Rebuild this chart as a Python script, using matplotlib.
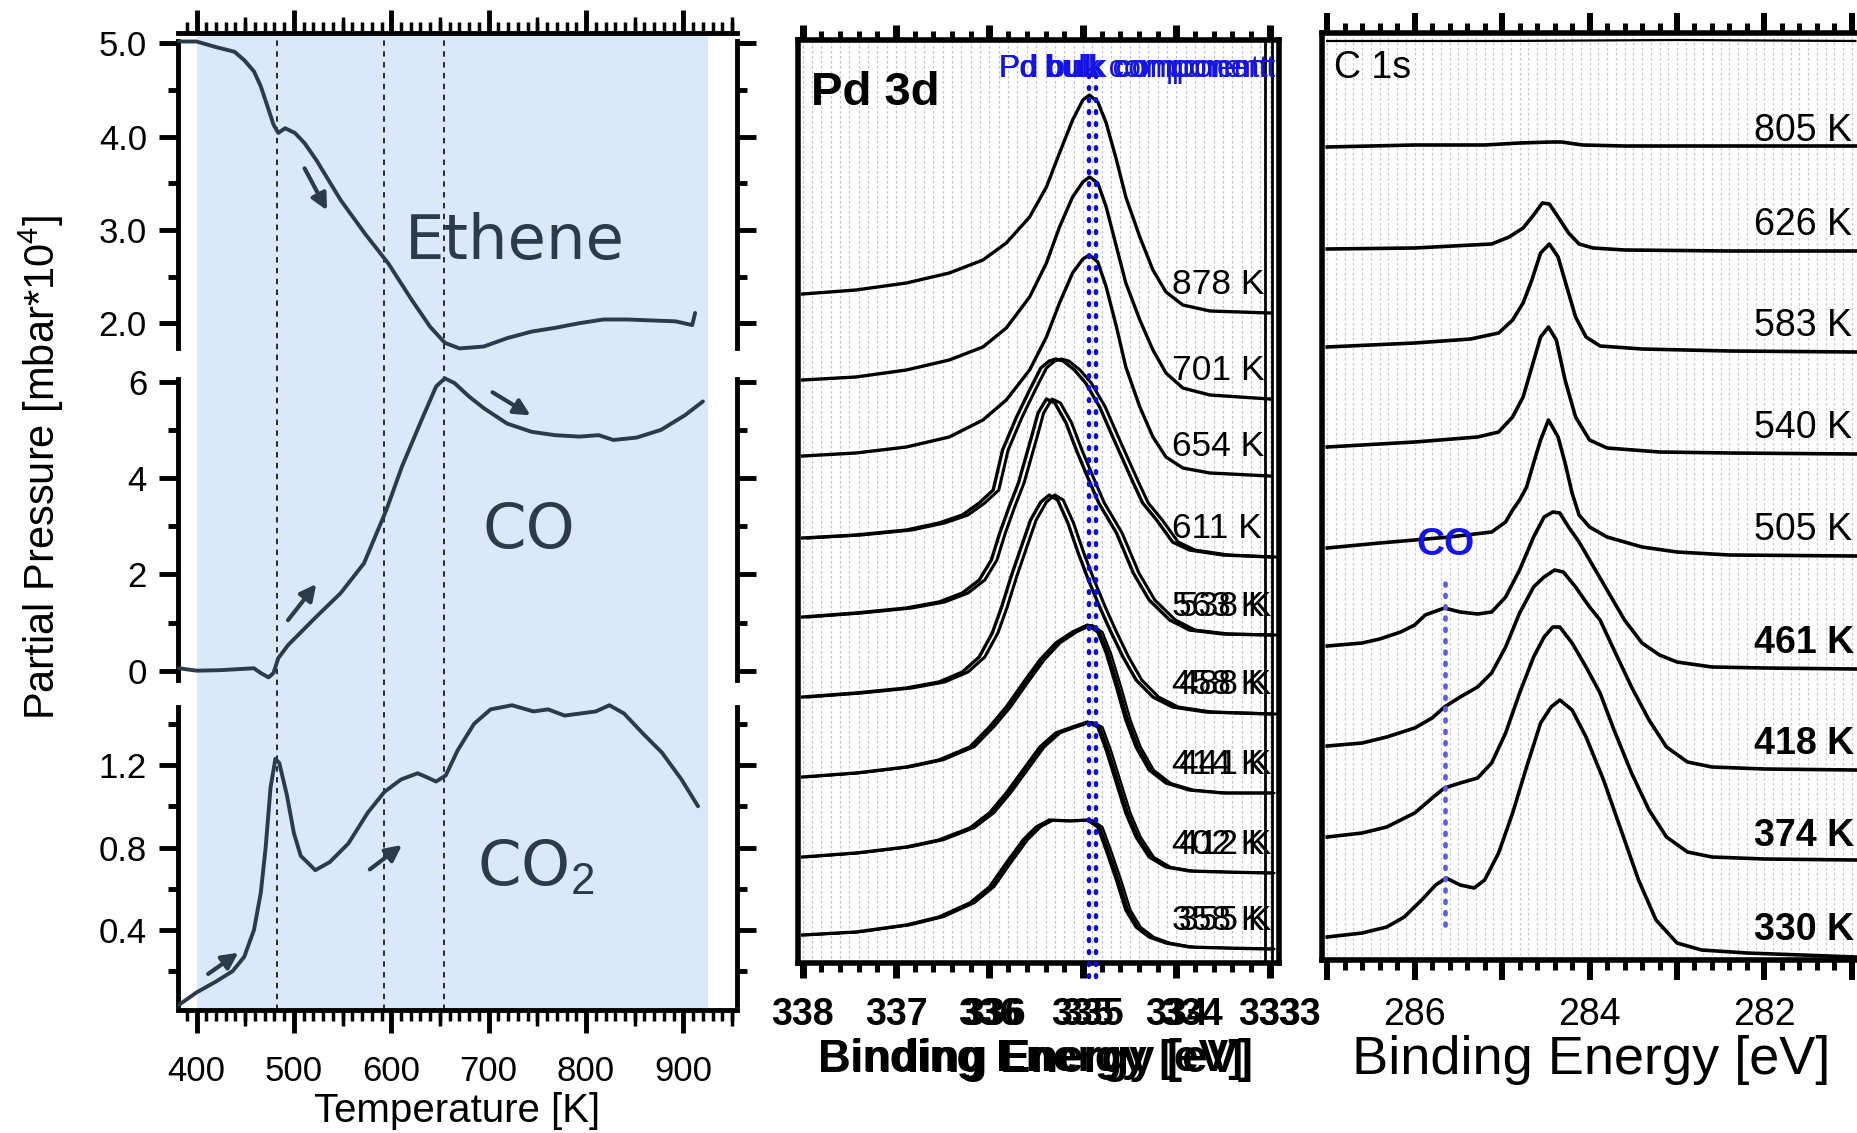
import numpy as np
import matplotlib
matplotlib.use('Agg')
import matplotlib.pyplot as plt
import matplotlib.transforms as mtransforms
from matplotlib.ticker import MultipleLocator, FormatStrFormatter, FuncFormatter

W, H = 1858, 1133
plt.rcParams['font.family'] = ['Liberation Sans', 'DejaVu Sans']
plt.rcParams['mathtext.fontset'] = 'custom'
plt.rcParams['mathtext.rm'] = 'Liberation Sans'
plt.rcParams['mathtext.it'] = 'Liberation Sans:italic'
plt.rcParams['mathtext.bf'] = 'Liberation Sans:bold'
NARROW = ['Liberation Sans Narrow', 'Liberation Sans']
HAND = ['DejaVu Sans']

# ---------------- left panel: partial pressures vs temperature ----------------
eth_T = [382, 400, 420, 439, 449, 459, 466, 474, 479, 484, 491, 501, 511, 523, 548, 573, 597,
         621, 640, 655, 670, 695, 719, 744, 768, 793, 818, 842, 867, 892, 909, 912]
eth_P = [5.02, 5.02, 4.96, 4.91, 4.82, 4.70, 4.54, 4.29, 4.13, 4.04, 4.09, 4.04, 3.93, 3.75, 3.32, 2.96, 2.64,
         2.25, 1.96, 1.79, 1.73, 1.75, 1.84, 1.91, 1.95, 2.00, 2.04, 2.04, 2.03, 2.02, 1.98, 2.11]

co_T = [382, 400, 424, 459, 466, 474, 479, 484, 494, 523, 548, 572, 595, 611, 631, 646, 655, 665,
        680, 695, 719, 744, 768, 793, 813, 828, 852, 877, 902, 920]
co_P = [0.05, 0.0, 0.01, 0.05, -0.05, -0.14, -0.05, 0.26, 0.53, 1.12, 1.61, 2.23, 3.34, 4.24, 5.2, 5.9, 6.07, 5.97,
        5.69, 5.45, 5.13, 4.96, 4.89, 4.86, 4.89, 4.79, 4.84, 5.0, 5.31, 5.59]

co2_T = [382, 400, 420, 437, 449, 459, 466, 471, 476, 481, 485, 493, 500, 507, 522, 537, 556, 576, 593,
         610, 627, 637, 646, 656, 668, 685, 702, 724, 746, 761, 778, 810, 824, 839, 859, 878, 898, 915]
co2_P = [0.037, 0.097, 0.15, 0.2, 0.27, 0.4, 0.58, 0.80, 1.09, 1.23, 1.21, 1.05, 0.87, 0.76, 0.69, 0.73, 0.82, 0.97, 1.07,
         1.13, 1.16, 1.14, 1.12, 1.15, 1.27, 1.40, 1.47, 1.49, 1.46, 1.47, 1.44, 1.46, 1.49, 1.45, 1.35, 1.26, 1.13, 1.0]

marker_T = [483, 593, 654]          # dashed lines (spectra temperatures)
shade_T = (400, 925)                # light blue TPR range

# ---------------- Pd 3d spectra (binding energy, intensity offset) ----------------
pd_E_bulk = [338.0, 337.43, 336.89, 336.43, 336.07, 335.82, 335.57, 335.39, 335.25, 335.11, 335.0,
             334.93, 334.84, 334.75, 334.64, 334.54, 334.39, 334.25, 334.11, 333.93, 333.64, 333.0]
pd_I_878 = [6.68, 6.72, 6.79, 6.89, 7.02, 7.19, 7.45, 7.75, 8.09, 8.42, 8.62,
            8.67, 8.60, 8.39, 8.02, 7.65, 7.25, 6.92, 6.70, 6.57, 6.51, 6.49]
pd_I_701 = [5.82, 5.85, 5.92, 6.02, 6.15, 6.34, 6.65, 6.99, 7.35, 7.65, 7.80,
            7.85, 7.79, 7.55, 7.15, 6.79, 6.42, 6.12, 5.89, 5.74, 5.67, 5.63]
pd_I_654 = [5.06, 5.09, 5.15, 5.25, 5.42, 5.62, 5.92, 6.25, 6.59, 6.89, 7.03,
            7.07, 7.00, 6.75, 6.35, 5.95, 5.55, 5.25, 5.05, 4.94, 4.89, 4.86]

pd_E_611 = [338.0, 337.43, 336.89, 336.54, 336.29, 336.11, 335.96, 335.86, 335.71, 335.57, 335.45, 335.36, 335.29,
            335.21, 335.09, 334.97, 334.82, 334.68, 334.57, 334.46, 334.36, 334.21, 334.04, 333.86, 333.5, 333.0]
pd_I_611 = [4.24, 4.27, 4.32, 4.39, 4.47, 4.59, 4.72, 5.12, 5.45, 5.72, 5.94, 6.01, 6.03,
            6.01, 5.92, 5.79, 5.55, 5.25, 5.02, 4.79, 4.59, 4.42, 4.20, 4.12, 4.07, 4.05]

pd_E_563 = [338.0, 337.43, 336.89, 336.54, 336.29, 336.11, 335.98, 335.89, 335.79, 335.69, 335.62, 335.55, 335.48,
            335.39, 335.3, 335.18, 335.07, 334.95, 334.83, 334.64, 334.46, 334.29, 334.07, 333.86, 333.5, 333.0]
pd_I_563 = [3.45, 3.49, 3.54, 3.60, 3.69, 3.82, 4.02, 4.29, 4.55, 4.79, 5.02, 5.25, 5.49,
            5.63, 5.59, 5.39, 5.12, 4.85, 4.59, 4.29, 3.89, 3.62, 3.42, 3.32, 3.28, 3.27]

pd_E_458 = [338.0, 337.43, 336.89, 336.54, 336.29, 336.11, 335.97, 335.87, 335.77, 335.66, 335.56, 335.45, 335.36,
            335.27, 335.16, 335.05, 334.94, 334.82, 334.71, 334.57, 334.43, 334.25, 334.04, 333.68, 333.0]
pd_I_458 = [2.65, 2.69, 2.74, 2.80, 2.90, 3.05, 3.29, 3.55, 3.85, 4.15, 4.42, 4.60, 4.67,
            4.62, 4.39, 4.09, 3.82, 3.55, 3.32, 3.05, 2.82, 2.65, 2.55, 2.50, 2.48]

pd_E_low = [338.0, 337.43, 336.89, 336.54, 336.21, 336.0, 335.82, 335.64, 335.46, 335.29, 335.11,
            334.95, 334.84, 334.75, 334.64, 334.54, 334.43, 334.29, 334.11, 333.86, 333.5, 333.0]
pd_I_414 = [1.85, 1.89, 1.95, 2.02, 2.15, 2.35, 2.55, 2.79, 3.02, 3.19, 3.30,
            3.37, 3.30, 3.09, 2.75, 2.42, 2.15, 1.92, 1.79, 1.72, 1.69, 1.69]
pd_I_402 = [1.05, 1.09, 1.15, 1.22, 1.34, 1.49, 1.69, 1.92, 2.15, 2.29, 2.35,
            2.40, 2.35, 2.12, 1.79, 1.49, 1.25, 1.05, 0.95, 0.91, 0.90, 0.89]
pd_E_358 = [338.0, 337.43, 336.89, 336.54, 336.21, 336.0, 335.82, 335.64, 335.5, 335.36, 335.14,
            334.95, 334.84, 334.75, 334.64, 334.54, 334.43, 334.29, 334.11, 333.86, 333.5, 333.0]
pd_I_358 = [0.27, 0.30, 0.37, 0.45, 0.59, 0.75, 0.99, 1.22, 1.35, 1.42, 1.41,
            1.42, 1.35, 1.12, 0.82, 0.52, 0.35, 0.25, 0.19, 0.15, 0.14, 0.13]

pd_labels = ['878 K', '701 K', '654 K', '611 K', '563 K', '458 K', '414 K', '402 K', '358 K']
pd_ghost_labels = [None, None, None, None, '538 K', '488 K', '441 K', '412 K', '355 K']
pd_bulk_E = [334.93, 334.86]
pd_ticks = [338, 337, 336, 335, 334, 333]

# ---------------- C 1s spectra ----------------
c_E_top = [287.0, 285.0, 283.0, 280.96]
c_I_top = [9.19, 9.19, 9.20, 9.19]
c_E_805 = [287.0, 286.0, 285.2, 284.8, 284.44, 284.32, 284.08, 283.6, 282.4, 280.96]
c_I_805 = [8.13, 8.15, 8.15, 8.17, 8.18, 8.18, 8.15, 8.14, 8.14, 8.14]
c_E_626 = [287.0, 286.0, 285.12, 284.92, 284.76, 284.64, 284.54, 284.46, 284.36, 284.24, 284.12, 283.96, 283.6, 282.4, 280.96]
c_I_626 = [7.11, 7.12, 7.16, 7.23, 7.32, 7.45, 7.57, 7.56, 7.43, 7.27, 7.16, 7.12, 7.10, 7.09, 7.09]
c_E_583 = [287.0, 286.0, 285.36, 285.04, 284.88, 284.76, 284.66, 284.56, 284.46, 284.36, 284.26, 284.16, 284.04,
           283.88, 283.4, 282.4, 280.96]
c_I_583 = [6.13, 6.17, 6.21, 6.27, 6.40, 6.57, 6.80, 7.07, 7.16, 7.03, 6.73, 6.43, 6.23, 6.14, 6.11, 6.09, 6.08]
c_E_540 = [287.0, 286.0, 285.28, 285.04, 284.88, 284.76, 284.66, 284.56, 284.47, 284.38, 284.28, 284.16, 284.0,
           283.8, 283.2, 282.4, 280.96]
c_I_540 = [5.13, 5.18, 5.23, 5.28, 5.43, 5.63, 5.93, 6.23, 6.33, 6.20, 5.80, 5.43, 5.20, 5.12, 5.08, 5.07, 5.06]
c_E_505 = [287.0, 286.4, 286.0, 285.6, 285.12, 284.96, 284.88, 284.8, 284.72, 284.64, 284.56, 284.47, 284.36,
           284.28, 284.2, 284.12, 284.0, 283.8, 283.4, 283.0, 282.4, 280.96]
c_I_505 = [4.12, 4.17, 4.20, 4.23, 4.28, 4.38, 4.50, 4.60, 4.73, 4.97, 5.20, 5.40, 5.23,
           4.97, 4.67, 4.45, 4.33, 4.23, 4.13, 4.08, 4.05, 4.04]
c_E_461 = [287.0, 286.6, 286.4, 286.16, 286.0, 285.88, 285.66, 285.48, 285.28, 285.12, 284.96, 284.8, 284.64, 284.52,
           284.42, 284.34, 284.24, 284.12, 284.0, 283.8, 283.6, 283.4, 283.2, 283.0, 282.6, 282.0, 280.96]
c_I_461 = [3.14, 3.17, 3.21, 3.28, 3.35, 3.45, 3.52, 3.48, 3.46, 3.48, 3.63, 3.90, 4.23, 4.43,
           4.48, 4.47, 4.33, 4.18, 4.00, 3.70, 3.40, 3.17, 3.05, 2.98, 2.93, 2.92, 2.91]
c_E_418 = [287.0, 286.6, 286.32, 286.0, 285.8, 285.66, 285.48, 285.28, 285.12, 284.96, 284.8, 284.64, 284.52,
           284.4, 284.3, 284.16, 284.0, 283.88, 283.72, 283.52, 283.32, 283.12, 282.88, 282.6, 282.0, 280.96]
c_I_418 = [2.14, 2.17, 2.23, 2.32, 2.42, 2.53, 2.63, 2.73, 2.87, 3.13, 3.47, 3.73, 3.83,
           3.90, 3.88, 3.73, 3.53, 3.40, 3.10, 2.73, 2.40, 2.13, 1.98, 1.93, 1.91, 1.90]
c_E_374 = [287.0, 286.6, 286.32, 286.0, 285.8, 285.66, 285.48, 285.28, 285.12, 284.96, 284.8, 284.64, 284.52,
           284.42, 284.34, 284.2, 284.04, 283.88, 283.72, 283.52, 283.32, 283.12, 282.88, 282.6, 282.0, 280.96]
c_I_374 = [1.23, 1.27, 1.33, 1.47, 1.62, 1.72, 1.77, 1.82, 1.97, 2.27, 2.67, 3.03, 3.23,
           3.33, 3.33, 3.17, 2.93, 2.67, 2.30, 1.87, 1.50, 1.23, 1.08, 1.03, 1.01, 1.00]
c_E_330 = [287.0, 286.6, 286.32, 286.12, 285.92, 285.76, 285.64, 285.48, 285.32, 285.2, 285.04, 284.88, 284.72,
           284.56, 284.44, 284.34, 284.2, 284.04, 283.84, 283.64, 283.44, 283.24, 283.0, 282.72, 282.2, 280.96]
c_I_330 = [0.23, 0.27, 0.33, 0.43, 0.60, 0.75, 0.82, 0.75, 0.72, 0.80, 1.07, 1.47, 1.93,
           2.37, 2.53, 2.60, 2.50, 2.23, 1.80, 1.30, 0.80, 0.40, 0.17, 0.10, 0.07, 0.03]
c_labels = ['805 K', '626 K', '583 K', '540 K', '505 K', '461 K', '418 K', '374 K', '330 K']
c_co_E = 285.65


def box(x0, y0, x1, y1):
    # pixel box (origin top-left) -> figure fraction rect
    return [x0 / W, 1 - y1 / H, (x1 - x0) / W, (y1 - y0) / H]


def pt(px):
    return px * 0.72


fig = plt.figure(figsize=(W / 100, H / 100), dpi=100)
INK = '#2c3b4c'
T_LIM = (381, 955)

# background axes: shading, marker lines, temperature ticks (top + bottom)
ax_bg = fig.add_axes(box(178, 33, 737, 1010))
ax_bg.set_xlim(*T_LIM)
ax_bg.set_ylim(0, 1)
ax_bg.axvspan(*shade_T, color='#dae8fa', lw=0, zorder=0)
for t in marker_T:
    ax_bg.axvline(t, color='#1a1a1a', lw=1.3, ls=(0, (3, 3)), zorder=1)
ax_bg.spines[['left', 'right']].set_visible(False)
ax_bg.spines[['top', 'bottom']].set_linewidth(3.5)
ax_bg.set_yticks([])
ax_bg.xaxis.set_major_locator(MultipleLocator(100))
ax_bg.xaxis.set_minor_locator(MultipleLocator(10))
ax_bg.tick_params(axis='x', which='both', top=True, bottom=True, direction='out')
ax_bg.tick_params(axis='x', which='major', length=pt(23), width=3.5, labelsize=25, pad=pt(22),
                  labelfontfamily=NARROW)
ax_bg.tick_params(axis='x', which='minor', length=pt(11), width=2.5)
half = np.arange(450, 951, 100)
for side in ('top', 'bottom'):
    sec = ax_bg.secondary_xaxis(side)
    sec.set_xticks(half, labels=[''] * len(half))
    sec.tick_params(axis='x', length=pt(16), width=2.5, direction='out')
    sec.spines[side].set_visible(False)
fig.text(457 / W, 1 - 1111 / H, 'Temperature [K]', ha='center', va='center', fontsize=29, family=NARROW)


def pressure_axes(y0, y1, ylim, major, minor, fmt):
    ax = fig.add_axes(box(178, y0, 737, y1))
    ax.patch.set_visible(False)
    ax.set_xlim(*T_LIM)
    ax.set_ylim(*ylim)
    ax.spines[['top', 'bottom']].set_visible(False)
    ax.spines[['left', 'right']].set_linewidth(3.5)
    ax.set_xticks([])
    ax.set_yticks(major)
    ax.set_yticks(minor, minor=True)
    ax.yaxis.set_major_formatter(FormatStrFormatter(fmt))
    ax.tick_params(axis='y', which='both', left=True, right=True, direction='out', width=3.5)
    ax.tick_params(axis='y', which='major', length=pt(19), labelsize=25, pad=pt(12), labelfontfamily=NARROW)
    ax.tick_params(axis='y', which='minor', length=pt(10))
    return ax


ax_eth = pressure_axes(41.5, 348.4, (1.73, 5.02), [2, 3, 4, 5], [2.5, 3.5, 4.5], '%.1f')
ax_co = pressure_axes(379.3, 680.3, (-0.2, 6.05), [0, 2, 4, 6], [1, 3, 5], '%d')
ax_co2 = pressure_axes(706.7, 1010, (0.012, 1.483), [0.4, 0.8, 1.2], [0.2, 0.6, 1.0, 1.4], '%.1f')
ax_co2.spines['left'].set_bounds(0.036, 1.483)
ax_co2.spines['right'].set_bounds(0.036, 1.483)

for ax, T, P in [(ax_eth, eth_T, eth_P), (ax_co, co_T, co_P), (ax_co2, co2_T, co2_P)]:
    ax.plot(T, P, color=INK, lw=2.8, clip_on=False, zorder=3, solid_capstyle='round')

ax_eth.text(727, 2.87, 'Ethene', fontsize=45, color=INK, ha='center', va='center', family=HAND)
ax_co.text(741, 2.91, 'CO', fontsize=45, color=INK, ha='center', va='center', family=HAND)
ax_co2.text(748, 0.70, 'CO$_2$', fontsize=45, color=INK, ha='center', va='center', family=HAND)

arrow = dict(arrowstyle='-|>', color=INK, lw=3, mutation_scale=24, shrinkA=0, shrinkB=0)
ax_eth.annotate('', xy=(534, 3.21), xytext=(511, 3.66), arrowprops=arrow)
ax_co.annotate('', xy=(523, 1.80), xytext=(494, 1.05), arrowprops=arrow)
ax_co.annotate('', xy=(743, 5.30), xytext=(704, 5.78), arrowprops=arrow)
ax_co2.annotate('', xy=(443, 0.29), xytext=(412, 0.187), arrowprops=arrow)
ax_co2.annotate('', xy=(611, 0.812), xytext=(578, 0.694), arrowprops=arrow)

fig.text(41 / W, 1 - 468 / H, 'Partial Pressure [mbar*10$^4$]', rotation=90, ha='center', va='center',
         fontsize=30)

# ---------------- middle panel: Pd 3d ----------------
ax_pd = fig.add_axes(box(798, 40, 1279, 963))
ax_pd.set_xlim(338.05, 332.9)
ax_pd.set_ylim(-0.01, 9.22)
ax_pd.vlines(np.arange(333.0, 338.01, 0.1), -0.01, 9.22, colors='#c2c2c2', lw=0.9,
             linestyles=(0, (2, 2)), zorder=0)
for s in ax_pd.spines.values():
    s.set_linewidth(4)
ax_pd.set_yticks([])
ax_pd.set_xticks(pd_ticks, labels=[str(v) for v in pd_ticks], fontweight='bold')
ax_pd.xaxis.set_minor_locator(MultipleLocator(0.2))
ax_pd.tick_params(axis='x', which='both', top=True, bottom=True, direction='out')
ax_pd.tick_params(axis='x', which='major', length=pt(15), width=pt(7), labelsize=27, pad=pt(19))
ax_pd.tick_params(axis='x', which='minor', length=pt(9), width=pt(5))
ax_pd.axvline(333.05, color='k', lw=2)
ax_pd.axvline(332.98, color='k', lw=2)

# second, slightly re-scaled overlay axis -> doubled tick labels as in the source figure
ax_pd2 = fig.add_axes(box(798, 40, 1300, 963))
ax_pd2.set_xlim(337.997, 332.895)
ax_pd2.patch.set_visible(False)
for s in ax_pd2.spines.values():
    s.set_visible(False)
ax_pd2.set_yticks([])
ax_pd2.set_xticks(pd_ticks[2:], labels=[str(v) for v in pd_ticks[2:]], fontweight='bold')
ax_pd2.tick_params(axis='x', length=pt(15), width=0, labelsize=27, pad=pt(19))

pd_rows = [(pd_E_bulk, pd_I_878), (pd_E_bulk, pd_I_701), (pd_E_bulk, pd_I_654),
           (pd_E_611, pd_I_611), (pd_E_563, pd_I_563), (pd_E_458, pd_I_458),
           (pd_E_low, pd_I_414), (pd_E_low, pd_I_402), (pd_E_358, pd_I_358)]
for i, (E, I) in enumerate(pd_rows):
    E = np.array(E)
    ax_pd.plot(E, I, color='k', lw=2.4, zorder=3)
    if 3 <= i <= 5:
        ax_pd.plot(E - 0.06, I, color='k', lw=2.2, zorder=3)
    elif i >= 6:
        ax_pd.plot(E - 0.025, I, color='k', lw=1.6, zorder=3)
        ax_pd.plot(E - 0.05, I, color='k', lw=1.6, zorder=3)
    y = I[-1] + 0.29
    ax_pd.text(334.05, y, pd_labels[i], fontsize=25.5, va='center', ha='left', zorder=4,
               clip_on=True, clip_box=ax_pd.bbox)
    if pd_ghost_labels[i]:
        tr = mtransforms.offset_copy(ax_pd.transData, fig=fig, x=7, y=0, units='dots')
        ax_pd.text(334.05, y, pd_ghost_labels[i], fontsize=25.5, va='center', ha='left', zorder=4,
                   transform=tr, clip_on=True, clip_box=ax_pd.bbox)

for e in pd_bulk_E:
    ax_pd.plot([e, e], [-0.15, 8.92], color='#0b0be8', lw=3.2, ls=(0, (0.4, 2.3)),
               dash_capstyle='round', clip_on=False, zorder=5)
for size in (22, 22.6, 23.2):
    ax_pd.text(335.90, 8.85, 'Pd bulk component', fontsize=size, color='#1414e6', va='baseline', ha='left',
               zorder=6, clip_on=False)
ax_pd.text(0.027, 0.93, 'Pd 3d', transform=ax_pd.transAxes, fontsize=34, fontweight='bold', va='baseline')
fig.text(818 / W, 1 - 1060 / H, 'Binding Energy [eV]', fontsize=32, fontweight='bold', ha='left', va='center')
fig.text(818 / W, 1 - 1060 / H, 'Binding Energy [eV]', fontsize=32.8, fontweight='bold', ha='left', va='center')

# ---------------- right panel: C 1s ----------------
ax_c = fig.add_axes(box(1322, 33, 1858, 960))
ax_c.set_xlim(287.06, 280.93)
ax_c.set_ylim(0, 9.27)
ax_c.vlines(np.arange(281.0, 287.01, 0.1), 0, 9.27, colors='#c8c8c8', lw=0.9,
            linestyles=(0, (2, 2)), zorder=0)
ax_c.spines['right'].set_visible(False)
for s in ['left', 'top', 'bottom']:
    ax_c.spines[s].set_linewidth(4)
ax_c.set_yticks([])
ax_c.xaxis.set_major_locator(MultipleLocator(1))
ax_c.xaxis.set_minor_locator(MultipleLocator(0.2))
ax_c.xaxis.set_major_formatter(FuncFormatter(lambda v, p: f'{v:.0f}' if int(round(v)) % 2 == 0 else ''))
ax_c.tick_params(axis='x', which='both', top=True, bottom=True, direction='out')
ax_c.tick_params(axis='x', which='major', length=pt(20), width=pt(6), labelsize=27, pad=pt(17))
ax_c.tick_params(axis='x', which='minor', length=pt(10), width=pt(5))

ax_c.plot(c_E_top, c_I_top, color='k', lw=1.6)
c_rows = [(c_E_805, c_I_805), (c_E_626, c_I_626), (c_E_583, c_I_583), (c_E_540, c_I_540),
          (c_E_505, c_I_505), (c_E_461, c_I_461), (c_E_418, c_I_418), (c_E_374, c_I_374),
          (c_E_330, c_I_330)]
label_dy = [0.15, 0.26, 0.26, 0.26, 0.26, 0.26, 0.26, 0.24, 0.27]
for i, (E, I) in enumerate(c_rows):
    ax_c.plot(E, I, color='k', lw=2.6, zorder=3)
    ax_c.text(282.12, I[-1] + label_dy[i], c_labels[i], fontsize=27, va='center', ha='left',
              fontweight='bold' if i >= 5 else 'normal', zorder=4)

ax_c.plot([c_co_E, c_co_E], [0.35, 3.82], color='#5c5cf2', lw=3.4, ls=(0, (0.4, 2.0)),
          dash_capstyle='round', zorder=5)
ax_c.text(c_co_E, 4.15, 'CO', color='#1414f0', fontsize=28, fontweight='bold', ha='center', va='center',
          zorder=6)
ax_c.text(0.023, 0.951, 'C 1s', transform=ax_c.transAxes, fontsize=27, va='baseline')
fig.text(1591 / W, 1 - 1060 / H, 'Binding Energy [eV]', fontsize=39, ha='center', va='center')

fig.savefig('out.png', dpi=100)
